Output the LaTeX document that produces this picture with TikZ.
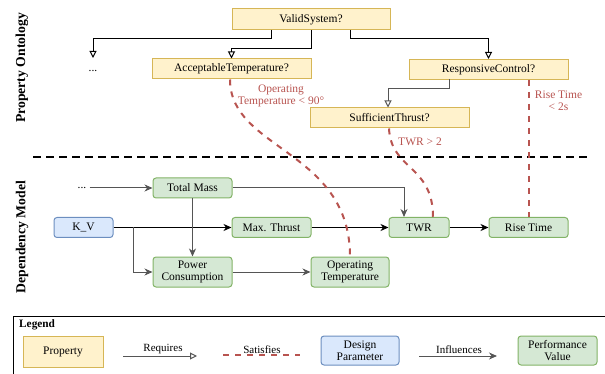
\documentclass[tikz,border=0pt]{standalone}
\usepackage{fontspec}
\setmainfont{Liberation Serif}
\usetikzlibrary{arrows.meta}
\definecolor{propfill}{HTML}{FFF2CC}
\definecolor{propdraw}{HTML}{D6B656}
\definecolor{dpfill}{HTML}{DAE8FC}
\definecolor{dpdraw}{HTML}{6C8EBF}
\definecolor{pvfill}{HTML}{D5E8D4}
\definecolor{pvdraw}{HTML}{82B366}
\definecolor{satred}{HTML}{B85450}
\definecolor{lgray}{HTML}{555555}
\tikzset{
  base/.style={draw, line width=1pt, inner sep=0pt, align=center, text=black,
    font=\fontsize{11.5}{12.5}\selectfont},
  prop/.style={base, rectangle, fill=propfill, draw=propdraw},
  dparam/.style={base, rectangle, rounded corners=3pt, fill=dpfill, draw=dpdraw},
  perf/.style={base, rectangle, rounded corners=3pt, fill=pvfill, draw=pvdraw},
  reqarrow/.style={line width=1pt, -{Triangle[open,length=7pt,width=7pt,line width=1pt]}},
  infarrow/.style={line width=1pt, -{Stealth[length=8pt,width=7pt,inset=2.5pt]}},
  satline/.style={line width=2pt, satred, dash pattern=on 6pt off 6pt},
  sepline/.style={line width=2pt, black, dash pattern=on 8pt off 5pt},
  redlabel/.style={text=satred, align=center, inner sep=0pt, font=\fontsize{11.5}{12.5}\selectfont},
  plain/.style={inner sep=0pt, font=\fontsize{11.5}{12.5}\selectfont},
  leglabel/.style={inner sep=0pt, font=\fontsize{11}{12}\selectfont, anchor=south},
  section/.style={inner sep=0pt, rotate=90, font=\fontsize{13.7}{15}\selectfont\bfseries},
}
\begin{document}
\begin{tikzpicture}[x=1pt, y=-1pt]
\useasboundingbox (0,0) rectangle (605,374);

% section labels
\node[section] (lblPO) at (22,68) {Property Ontology};
\node[section] (lblDM) at (22,237) {Dependency Model};

% property ontology
\node[prop, minimum width=158pt, minimum height=21pt] (VS) at (311,19.5) {ValidSystem?};
\node[prop, minimum width=159pt, minimum height=20pt] (AT) at (231.5,69) {AcceptableTemperature?};
\node[prop, minimum width=159pt, minimum height=20pt] (RC) at (488.5,69.5) {ResponsiveControl?};
\node[prop, minimum width=159pt, minimum height=20pt] (ST) at (389.5,118) {SufficientThrust?};
\node[plain] (dots1) at (93,71) {...};
\coordinate (dotsin) at (93,58);

\draw[reqarrow] (271,30) -- (271,39) -| (dotsin);
\draw[reqarrow] (VS.south) -- (311,49) -| (AT.north);
\draw[reqarrow] (350,30) -- (350,39) -| (RC.north);
\draw[reqarrow, lgray] (449,79.5) -- (449,89) -| ([xshift=-1.5pt]ST.north);

% separator
\coordinate (sepL) at (33,157);
\coordinate (sepR) at (587,157);
\draw[sepline] (sepL) -- (sepR);

% dependency model
\node[perf, minimum width=79pt, minimum height=20pt] (TM) at (192.5,188) {Total Mass};
\node[dparam, minimum width=59pt, minimum height=20pt] (KV) at (83.5,227.5) {K\_V};
\node[perf, minimum width=79pt, minimum height=20pt] (MT) at (271.5,227.5) {Max. Thrust};
\node[perf, minimum width=79pt, minimum height=30pt] (PC) at (192.5,272) {Power\\Consumption};
\node[perf, minimum width=78pt, minimum height=30pt] (OT) at (350,272) {Operating\\Temperature};
\node[perf, minimum width=60pt, minimum height=20pt] (TWR) at (419,227.5) {TWR};
\node[perf, minimum width=79pt, minimum height=20pt] (RT) at (528.5,227.5) {Rise Time};
\node[plain] (dots2) at (82,188) {...};
\coordinate (branch) at (133,227.5);

\draw[infarrow, lgray] ([xshift=3pt]dots2.east) -- (TM.west);
\draw[infarrow, lgray] (TM.east) -| ([xshift=-15pt]TWR.north);
\draw[infarrow] (KV.east) -- (MT.west);
\draw[infarrow, lgray] (branch) |- (PC.west);
\draw[infarrow, lgray] (TM.south) -- (PC.north);
\draw[infarrow, lgray] (PC.east) -- (OT.west);
\draw[infarrow] (MT.east) -- (TWR.west);
\draw[infarrow] (TWR.east) -- (RT.west);

% satisfies
\draw[satline] ([xshift=-1.5pt]AT.south) .. controls (230,150) and (350,150) .. (OT.north);
\draw[satline] ([xshift=-0.5pt]ST.south) .. controls (391,170) and (433,165) .. ([xshift=14pt]TWR.north);
\draw[satline] (RT.north |- RC.south) -- (RT.north);

\node[redlabel] (lblOT) at (281,96) {Operating\\Temperature < 90°};
\node[redlabel] (lblRT) at (558.5,101) {Rise Time\\< 2s};
\node[redlabel] (lblTWR) at (420,142) {TWR > 2};

% legend
\node[draw, line width=1pt, minimum width=600pt, minimum height=64pt, anchor=north west, inner sep=0pt] (legbox) at (13,316) {};
\node[plain, anchor=west, font=\fontsize{11.3}{12}\selectfont\bfseries] (legtitle) at (19,324.5) {Legend};
\node[prop, minimum width=80pt, minimum height=31pt] (LP) at (63,351.5) {Property};
\node[dparam, minimum width=78pt, minimum height=29pt] (LD) at (360,350.5) {Design\\Parameter};
\node[perf, minimum width=79pt, minimum height=29pt] (LV) at (557.5,350.5) {Performance\\Value};

\coordinate (reqA) at (123,356);
\coordinate (reqB) at (197,356);
\coordinate (satA) at (223,355);
\coordinate (satB) at (300,355);
\coordinate (infA) at (419,356);
\coordinate (infB) at (497,356);
\draw[reqarrow, lgray] (reqA) -- (reqB);
\draw[satline] (satA) -- (satB);
\draw[infarrow, lgray] (infA) -- (infB);
\node[leglabel] (lreq) at (163,354) {Requires};
\node[leglabel] (lsat) at (262,353.5) {Satisfies};
\node[leglabel] (linf) at (459,354) {Influences};
\end{tikzpicture}
\end{document}
